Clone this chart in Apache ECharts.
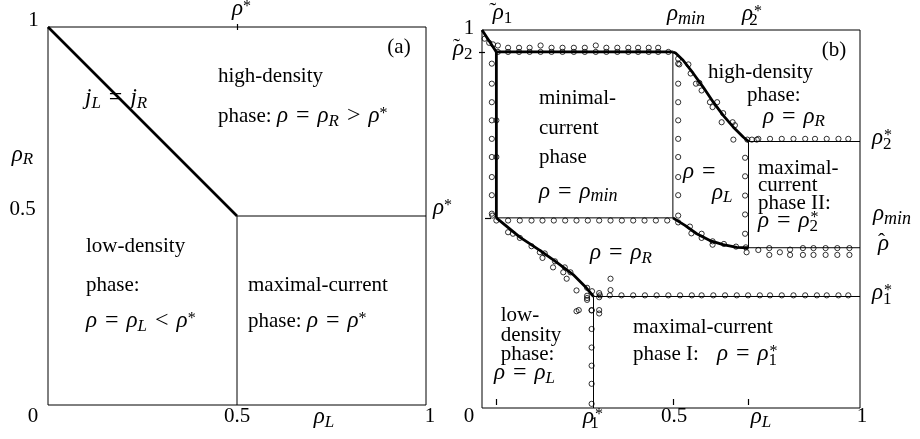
<!DOCTYPE html>
<html><head><meta charset="utf-8">
<script src="https://cdn.jsdelivr.net/npm/echarts@6.0.0/dist/echarts.min.js"></script>
<style>html,body{margin:0;padding:0;background:#fff}#c{width:920px;height:439px}</style>
</head><body><div id="c"></div>
<script>
// ---------------- data: panel (a) ----------------
const aJointLine = [[0, 1], [0.5, 0.5]];
const aHighMaxBoundary = [[0.5, 0.5], [1, 0.5]];
const aLowMaxBoundary = [[0.5, 0], [0.5, 0.5]];
const aTopTicks = [0.5];

// ---------------- data: panel (b) ----------------
const bTopTicks = [0.038, 0.505, 0.705];   // rho~1, rho_min, rho2*
const bLeftTicks = [0.942];                // rho~2
const bRightTicks = [0.501];               // rho_min

// thick boundaries
const bCornerDiag = [[0, 1], [0.038, 0.942]];
const bMinTop = [[0.038, 0.942], [0.505, 0.942]];
const bMinLeft = [[0.038, 0.942], [0.038, 0.503]];
const bUpperCurve = [[0.505, 0.942], [0.512, 0.939], [0.532, 0.92], [0.559, 0.885], [0.585, 0.849], [0.612, 0.809], [0.638, 0.774], [0.665, 0.743], [0.691, 0.717], [0.705, 0.705]];
const bLowerCurve = [[0.505, 0.503], [0.537, 0.483], [0.568, 0.461], [0.603, 0.443], [0.638, 0.432], [0.674, 0.425], [0.705, 0.424]];
const bLowerDiag = [[0.038, 0.503], [0.1, 0.452], [0.153, 0.417], [0.197, 0.386], [0.241, 0.353], [0.276, 0.318], [0.295, 0.295]];
// thin boundaries
const bMinRight = [[0.505, 0.942], [0.505, 0.503]];
const bMinBottom = [[0.038, 0.503], [0.505, 0.503]];
const bStar2Line = [[0.705, 0.705], [1, 0.705]];
const bHatLine = [[0.705, 0.424], [1, 0.424]];
const bStar2Vert = [[0.705, 0.424], [0.705, 0.705]];
const bStar1Line = [[0.295, 0.295], [1, 0.295]];
const bStar1Vert = [[0.295, 0], [0.295, 0.295]];

// simulation points (open circles)
const simCorner = [[0.007, 0.977], [0.019, 0.966], [0.029, 0.962], [0.042, 0.959]];
const simMinTopUpper = [[0.069, 0.953], [0.098, 0.953], [0.126, 0.953], [0.155, 0.959], [0.184, 0.953], [0.213, 0.953], [0.243, 0.953], [0.272, 0.953], [0.301, 0.959], [0.329, 0.953], [0.358, 0.953], [0.387, 0.953], [0.413, 0.953], [0.441, 0.953], [0.466, 0.953]];
const simMinTopLower = [[0.042, 0.942], [0.069, 0.942], [0.098, 0.942], [0.126, 0.942], [0.155, 0.942], [0.184, 0.942], [0.213, 0.942], [0.243, 0.942], [0.272, 0.942], [0.301, 0.942], [0.329, 0.942], [0.358, 0.942], [0.387, 0.942], [0.413, 0.942], [0.441, 0.942], [0.466, 0.942], [0.493, 0.942]];
const simMinLeftCol = [[0.026, 0.911], [0.026, 0.858], [0.026, 0.809], [0.026, 0.761], [0.026, 0.712], [0.026, 0.664], [0.026, 0.611], [0.026, 0.563], [0.026, 0.514], [0.038, 0.761], [0.038, 0.664]];
const simMinRightCol = [[0.519, 0.911], [0.519, 0.858], [0.519, 0.809], [0.519, 0.761], [0.519, 0.712], [0.519, 0.664], [0.519, 0.611], [0.519, 0.563], [0.519, 0.509], [0.519, 0.491]];
const simMinBottom = [[0.038, 0.496], [0.069, 0.496], [0.1, 0.496], [0.131, 0.496], [0.16, 0.496], [0.19, 0.496], [0.22, 0.496], [0.25, 0.496], [0.28, 0.496], [0.31, 0.496], [0.34, 0.496], [0.37, 0.496], [0.4, 0.496], [0.43, 0.496], [0.46, 0.496], [0.49, 0.496]];
const simUpperCurve = [[0.519, 0.924], [0.522, 0.909], [0.546, 0.909], [0.552, 0.885], [0.566, 0.858], [0.575, 0.86], [0.581, 0.84], [0.603, 0.809], [0.622, 0.809], [0.61, 0.796], [0.638, 0.78], [0.634, 0.756], [0.663, 0.756], [0.669, 0.748], [0.665, 0.71], [0.702, 0.71], [0.714, 0.71], [0.727, 0.71]];
const simLowerCurve = [[0.55, 0.48], [0.554, 0.462], [0.581, 0.461], [0.581, 0.45], [0.61, 0.441], [0.61, 0.432], [0.64, 0.434], [0.672, 0.427], [0.698, 0.425]];
const simStar2Col = [[0.696, 0.662], [0.696, 0.613], [0.696, 0.562], [0.696, 0.512], [0.696, 0.461]];
const simStar2Row = [[0.731, 0.712], [0.762, 0.712], [0.793, 0.712], [0.824, 0.712], [0.855, 0.712], [0.881, 0.712], [0.912, 0.712], [0.943, 0.712], [0.969, 0.712]];
const simHatRow = [[0.7, 0.412], [0.731, 0.418], [0.76, 0.423], [0.76, 0.405], [0.788, 0.412], [0.815, 0.419], [0.815, 0.405], [0.849, 0.423], [0.849, 0.405], [0.877, 0.423], [0.877, 0.405], [0.909, 0.423], [0.909, 0.405], [0.94, 0.423], [0.94, 0.405], [0.972, 0.423], [0.972, 0.405]];
const simStar1Row = [[0.312, 0.298], [0.338, 0.298], [0.369, 0.298], [0.4, 0.298], [0.431, 0.298], [0.462, 0.298], [0.493, 0.298], [0.524, 0.298], [0.555, 0.298], [0.581, 0.298], [0.612, 0.298], [0.643, 0.298], [0.674, 0.298], [0.704, 0.298], [0.735, 0.298], [0.762, 0.298], [0.793, 0.298], [0.824, 0.298], [0.855, 0.298], [0.886, 0.298], [0.912, 0.298], [0.943, 0.298], [0.969, 0.298]];
const simStar1Col = [[0.29, 0.258], [0.29, 0.209], [0.29, 0.16], [0.29, 0.112], [0.29, 0.064], [0.29, 0.011]];
const simLowerDiag = [[0.0275, 0.509], [0.069, 0.465], [0.082, 0.461], [0.1, 0.45], [0.131, 0.428], [0.153, 0.412], [0.166, 0.409], [0.16, 0.397], [0.193, 0.388], [0.188, 0.372], [0.219, 0.372], [0.215, 0.359], [0.234, 0.359], [0.224, 0.342], [0.25, 0.311], [0.278, 0.318], [0.291, 0.309], [0.278, 0.297], [0.278, 0.291], [0.278, 0.286], [0.31, 0.304], [0.31, 0.293], [0.34, 0.342], [0.34, 0.312], [0.25, 0.256], [0.256, 0.259], [0.29, 0.259], [0.31, 0.259], [0.31, 0.25]];

// ---------------- styling / rendering ----------------
const F = '"Liberation Serif", "Times New Roman", serif';
const RICH = {
  n: { fontFamily: F, fontSize: 21, fill: '#000' },
  i: { fontFamily: F, fontSize: 23, fontStyle: 'italic', fill: '#000' },
  e: { fontFamily: F, fontSize: 24, fill: '#000' },
  s: { fontFamily: F, fontSize: 17, fontStyle: 'italic', padding: [11, 0, 0, 0], fill: '#000' },
  m: { fontFamily: F, fontSize: 18, fontStyle: 'italic', padding: [10, 0, 0, 0], fill: '#000' },
  d: { fontFamily: F, fontSize: 17, padding: [11, 0, 0, 0], fill: '#000' },
  dz: { fontFamily: F, fontSize: 17, padding: [13, 0, 0, 0], width: 1, fill: '#000' },
  p: { fontFamily: F, fontSize: 16, padding: [0, 0, 5, 0], fill: '#000' },
  acc: { fontFamily: F, fontSize: 21, padding: [0, 0, 3, 5], width: 0.01, fill: '#000' }
};
const RHO = '{i|\u03c1}';
const EQ = '{e|\u2004=\u2004}';
const LT = '{e|\u2004<\u2004}';
const GT = '{e|\u2004>\u2004}';
const RT = '{acc|\u02dc}' + RHO;
const RH = '{acc|\u02c6}' + RHO;
const S1 = RHO + '{dz|1}{p|*}';
const S2 = RHO + '{dz|2}{p|*}';
const RMIN = RHO + '{m|min}';

// text layout: [x, y, text, align]
const TEXTS = [
  // panel (a)
  [33.5, 20, '{n|1}', 'center'],
  [22.5, 154.5, RHO + '{s|R}', 'center'],
  [22.5, 209, '{n|0.5}', 'center'],
  [33, 416, '{n|0}', 'center'],
  [237, 416, '{n|0.5}', 'center'],
  [324, 417, RHO + '{s|L}', 'center'],
  [430, 416, '{n|1}', 'center'],
  [232, 9, RHO + '{p|*}', 'left'],
  [433, 208, RHO + '{p|*}', 'left'],
  [399, 47, '{n|(a)}', 'center'],
  [218, 76, '{n|high-density}', 'left'],
  [218, 116, '{n|phase: }' + RHO + EQ + RHO + '{s|R}' + GT + RHO + '{p|*}', 'left'],
  [85, 98, '{i|j}{s|L}' + EQ + '{i|j}{s|R}', 'left'],
  [86, 246, '{n|low-density}', 'left'],
  [86, 285, '{n|phase:}', 'left'],
  [86, 321, RHO + EQ + RHO + '{s|L}' + LT + RHO + '{p|*}', 'left'],
  [248, 285, '{n|maximal-current}', 'left'],
  [248, 321, '{n|phase: }' + RHO + EQ + RHO + '{p|*}', 'left'],
  // panel (b)
  [469, 28, '{n|1}', 'center'],
  [448, 49, RT + '{d|2}', 'left'],
  [500, 13, RT + '{d|1}', 'center'],
  [667, 14, RMIN, 'left'],
  [752, 14, S2, 'center'],
  [834, 50, '{n|(b)}', 'center'],
  [872, 138, S2, 'left'],
  [873, 214, RMIN, 'left'],
  [873, 244, RH, 'left'],
  [872, 293, S1, 'left'],
  [469, 416, '{n|0}', 'center'],
  [593, 417, S1, 'center'],
  [674, 416, '{n|0.5}', 'center'],
  [761, 417, RHO + '{s|L}', 'center'],
  [862, 416, '{n|1}', 'center'],
  [539, 98, '{n|minimal-}', 'left'],
  [539, 128, '{n|current}', 'left'],
  [539, 157, '{n|phase}', 'left'],
  [539, 191.5, RHO + EQ + RMIN, 'left'],
  [708, 72, '{n|high-density}', 'left'],
  [747, 95.5, '{n|phase:}', 'left'],
  [763, 116.5, RHO + EQ + RHO + '{s|R}', 'left'],
  [683, 172, RHO + '{e|\u2004=}', 'left'],
  [712, 192.5, RHO + '{s|L}', 'left'],
  [758, 168, '{n|maximal-}', 'left'],
  [758, 185.5, '{n|current}', 'left'],
  [758, 203, '{n|phase II:}', 'left'],
  [758, 220.5, RHO + EQ + S2, 'left'],
  [590, 253, RHO + EQ + RHO + '{s|R}', 'left'],
  [500.7, 315.5, '{n|low-}', 'left'],
  [500.7, 335.5, '{n|density}', 'left'],
  [500.7, 354, '{n|phase:}', 'left'],
  [494, 373, RHO + EQ + RHO + '{s|L}', 'left'],
  [633, 327, '{n|maximal-current}', 'left'],
  [633, 354, '{n|phase I:}', 'left'],
  [717, 354, RHO + EQ + S1, 'left']
];

function hiddenAxis(gridIndex, position) {
  return { type: 'value', gridIndex, position, min: 0, max: 1,
    axisLine: { show: false }, axisTick: { show: false }, axisLabel: { show: false }, splitLine: { show: false } };
}
function tickAxis(gridIndex, position, vals) {
  const ax = hiddenAxis(gridIndex, position);
  ax.offset = -3;
  ax.axisTick = { show: true, customValues: vals, length: 6, inside: false, lineStyle: { color: '#000', width: 1.2 } };
  return ax;
}
function line(data, w, g) {
  return { type: 'line', xAxisIndex: g ? 2 : 0, yAxisIndex: g ? 1 : 0, data, symbol: 'none', showSymbol: false,
    lineStyle: { color: '#000', width: w }, silent: true, animation: false, z: 3, clip: false };
}
function dots(data) {
  return { type: 'scatter', xAxisIndex: 2, yAxisIndex: 1, data, symbol: 'circle', symbolSize: 5.2,
    itemStyle: { color: 'rgba(0,0,0,0)', borderColor: '#000', borderWidth: 1 }, silent: true, animation: false, z: 2 };
}

const chart = echarts.init(document.getElementById('c'), null, { renderer: 'canvas' });
chart.setOption({
  animation: false,
  backgroundColor: '#fff',
  grid: [
    { left: 48, top: 27, width: 378, height: 378, show: true, borderColor: '#000', borderWidth: 1, backgroundColor: 'rgba(0,0,0,0)' },
    { left: 482, top: 30, width: 378, height: 378, show: true, borderColor: '#000', borderWidth: 1, backgroundColor: 'rgba(0,0,0,0)' }
  ],
  xAxis: [hiddenAxis(0, 'bottom'), tickAxis(0, 'top', aTopTicks), hiddenAxis(1, 'bottom'), tickAxis(1, 'top', bTopTicks)],
  yAxis: [hiddenAxis(0, 'left'), tickAxis(1, 'left', bLeftTicks), tickAxis(1, 'right', bRightTicks)],
  series: [
    line(aJointLine, 2.6, 0), line(aHighMaxBoundary, 1, 0), line(aLowMaxBoundary, 1, 0),
    line(bCornerDiag, 2.8, 1), line(bMinTop, 2.8, 1), line(bMinLeft, 2.8, 1),
    line(bUpperCurve, 2.8, 1), line(bLowerCurve, 2.8, 1), line(bLowerDiag, 2.8, 1),
    line(bMinRight, 1, 1), line(bMinBottom, 1, 1), line(bStar2Line, 1, 1), line(bHatLine, 1, 1),
    line(bStar2Vert, 1, 1), line(bStar1Line, 1, 1), line(bStar1Vert, 1, 1),
    dots(simCorner), dots(simMinTopUpper), dots(simMinTopLower), dots(simMinLeftCol), dots(simMinRightCol),
    dots(simMinBottom), dots(simUpperCurve), dots(simLowerCurve), dots(simStar2Col), dots(simStar2Row),
    dots(simHatRow), dots(simStar1Row), dots(simStar1Col), dots(simLowerDiag)
  ],
  graphic: { elements: TEXTS.map(t => ({
    type: 'text', x: t[0], y: t[1], silent: true, z: 10,
    style: { text: t[2], rich: RICH, font: '21px ' + F, fill: '#000', align: t[3], verticalAlign: 'middle' }
  })) }
});
</script></body></html>
